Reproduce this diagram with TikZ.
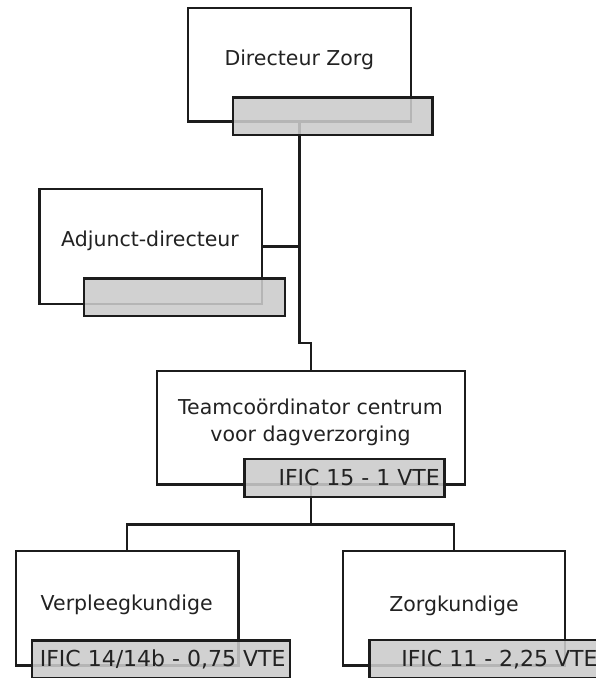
\documentclass[tikz,border=0pt]{standalone}
\usepackage{fontspec}
\setmainfont{DejaVu Sans}
\usetikzlibrary{calc}
\definecolor{linec}{HTML}{1C1C1C}
\definecolor{txtc}{HTML}{222222}
\definecolor{grayc}{HTML}{CBCBCB}
\begin{document}
\begin{tikzpicture}[x=1pt,y=-1pt,
  mainbox/.style={draw=linec, line width=2.4pt, fill=white, minimum width=222.5pt, minimum height=114.5pt, inner sep=0pt},
  graybox/.style={draw=linec, line width=2.4pt, fill=grayc, fill opacity=0.88, minimum height=37.7pt, inner sep=0pt},
  maintext/.style={text=txtc, font=\fontsize{20.5}{26.6}\selectfont, inner sep=0pt, anchor=base, align=center},
  graytext/.style={text=txtc, font=\fontsize{22}{26}\selectfont, inner sep=0pt},
  conn/.style={draw=linec, line width=2.4pt}]
\useasboundingbox (0,0) rectangle (596,678);
\clip (0,0) rectangle (596,678);
% main boxes
\node[mainbox, minimum height=113.7pt] (dz) at (299.5,64.8) {};
\node[mainbox, minimum height=115pt] (ad) at (150.8,246.5) {};
\node[mainbox, minimum width=308.4pt, minimum height=113.6pt] (tc) at (311,427.5) {};
\node[mainbox, minimum height=114.7pt] (vp) at (127.2,608.3) {};
\node[mainbox, minimum height=114.7pt] (zk) at (454,608.3) {};
% connector points
\coordinate (j1) at (299.5,342.7);
\coordinate (j2) at (311,342.7);
\coordinate (b1) at (311,524.3);
% connectors
\draw[conn] (dz.south) -- (j1) -- (j2) -- (tc.north);
\draw[conn] (ad.east) -- (ad.east -| dz.south);
\draw[conn] (tc.south) -- (b1);
\draw[conn] (b1) -| (vp.north);
\draw[conn] (b1) -| (zk.north);
% grey boxes
\node[graybox, minimum width=199.6pt] (dzG) at (332.5,116.2) {};
\node[graybox, minimum width=200.7pt] (adG) at (184.35,297.2) {};
\node[graybox, minimum width=200pt] (tcG) at (344.3,477.9) {};
\node[graybox, minimum width=258.3pt] (vpG) at (160.85,659.5) {};
\node[graybox, minimum width=258.3pt] (zkG) at (498.5,658.9) {};
% texts
\node[maintext] (dzT) at (299.3,65.7) {Directeur Zorg};
\node[maintext] (adT) at (150,246.3) {Adjunct-directeur};
\node[maintext] (tcT) at (310.5,441.5) {Teamcoördinator centrum\\voor dagverzorging};
\node[maintext] (vpT) at (126.7,610) {Verpleegkundige};
\node[maintext] (zkT) at (454,611) {Zorgkundige};
\node[graytext, anchor=base east] (tcL) at ($(tcG.north east)+(-5.5,27.5)$) {IFIC 15 - 1 VTE};
\node[graytext, anchor=base east] (vpL) at ($(vpG.north east)+(-5.5,27.5)$) {IFIC 14/14b - 0,75 VTE};
\node[graytext, anchor=base west] (zkL) at ($(zkG.north west)+(33,27.5)$) {IFIC 11 - 2,25 VTE};
\end{tikzpicture}
\end{document}
